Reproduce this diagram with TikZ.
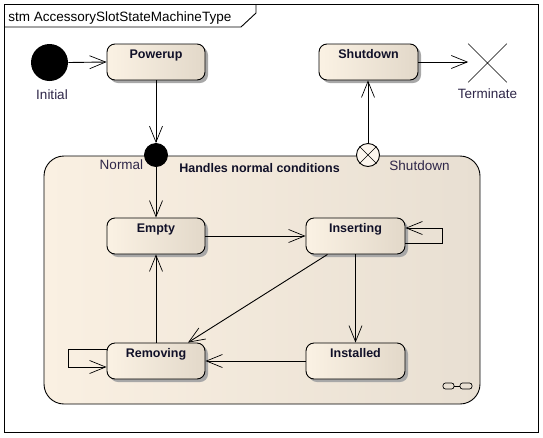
\documentclass[tikz,border=0pt]{standalone}
\usepackage{fontspec}
\setmainfont{Liberation Sans}
\usetikzlibrary{arrows.meta,shapes.misc,shadows}
\definecolor{stl}{HTML}{FBF2E4}
\definecolor{str}{HTML}{E2D8C9}
\definecolor{cpl}{HTML}{FAF0E2}
\definecolor{cpr}{HTML}{E8DFD2}
\definecolor{labc}{HTML}{2E2648}
\definecolor{namec}{HTML}{101028}
\definecolor{shd}{HTML}{A8A8A8}
\begin{document}
\begin{tikzpicture}[x=1pt,y=-1pt, line width=0.9pt,
  arr/.style={-{Straight Barb[length=16pt,width=13pt,line width=0.7pt]}},
  stbox/.style={rectangle, rounded corners=8pt, draw, minimum width=98pt, minimum height=36pt,
    left color=stl, right color=str,
    general shadow={fill=shd, shadow xshift=3pt, shadow yshift=-3pt}, inner sep=0pt},
  stname/.style={anchor=base, yshift=-15pt, font=\fontsize{12.5}{14}\selectfont\bfseries, inner sep=0pt, text=namec},
  lab/.style={anchor=base, font=\fontsize{13.5}{15}\selectfont, text=labc, inner sep=0pt}]
\fill[white] (0,0) rectangle (543,437);
\useasboundingbox (0,0) rectangle (543,437);
% frame
\draw (4,4) rectangle (538,432);
\draw (4,27) -- (241,27) -- (256,13) -- (256,4);
\node[lab, anchor=base west, text=black] (title) at (8,21) {stm AccessorySlotStateMachineType};
% composite
\node[draw, rounded corners=20pt, left color=cpl, right color=cpr, minimum width=436pt, minimum height=248pt, inner sep=0pt] (comp) at (262,280) {};
\node[lab, font=\fontsize{12.5}{14}\selectfont\bfseries, text=namec] (compname) at (259.5,172) {Handles normal conditions};
% top level
\node[circle, fill=black, minimum size=37pt, inner sep=0pt] (init) at (49.5,62.5) {};
\node[lab] (initlab) at (52,99) {Initial};
\node[stbox, label={[stname]north:Powerup}] (pw) at (156,62) {};
\node[stbox, minimum width=99pt, label={[stname]north:Shutdown}] (sd) at (368.5,62) {};
\node[cross out, draw, minimum size=38pt, inner sep=0pt, line width=0.6pt] (term) at (487.5,63) {};
\node[lab] (termlab) at (487.5,98) {Terminate};
% entry / exit points
\node[circle, fill=black, draw, minimum size=23pt, inner sep=0pt] (normal) at (156,155) {};
\node[lab] (normallab) at (121.5,169) {Normal};
\node[circle, fill=cpl!60!white, draw, minimum size=23pt, inner sep=0pt] (exitp) at (368,155) {};
\draw[line width=0.6pt] (exitp.north west) -- (exitp.south east) (exitp.north east) -- (exitp.south west);
\node[lab] (exitlab) at (419.5,170) {Shutdown};
% inner states
\node[stbox, label={[stname]north:Empty}] (empty) at (156,236) {};
\node[stbox, minimum width=99pt, label={[stname]north:Inserting}] (ins) at (355.5,236) {};
\node[stbox, label={[stname]north:Removing}] (rem) at (156,361) {};
\node[stbox, minimum width=99pt, label={[stname]north:Installed}] (inst) at (355.5,361) {};
% connectors
\draw[arr] (init.east) -- (pw.west);
\draw[arr] (sd.east) -- (sd.east -| term.west);
\draw[arr] (pw.south) -- (normal.north);
\draw[arr] (normal.south) -- (empty.north);
\draw[arr] (exitp.north) -- (exitp.north |- sd.south);
\draw[arr] (empty.east) -- (ins.west);
\draw[arr] ([yshift=-7pt]ins.east) -- ++(37,0) |- ([yshift=8pt]ins.east);
\draw[arr] (ins.south) -- (inst.north);
\draw[arr] ([xshift=-28pt]ins.south) -- ([xshift=32pt]rem.north);
\draw[arr] (inst.west) -- (rem.east);
\draw[arr] (rem.north) -- (empty.south);
\draw[arr] ([yshift=12pt]rem.west) -- ++(-38,0) |- ([yshift=-6pt]rem.west);
% decoration symbol
\draw[line width=0.7pt, rounded corners=2.5pt] (443,383) rectangle (454,389);
\draw[line width=0.7pt] (454,386) -- (460,386);
\draw[line width=0.7pt, rounded corners=2.5pt] (460,383) rectangle (472,389);
\end{tikzpicture}
\end{document}
